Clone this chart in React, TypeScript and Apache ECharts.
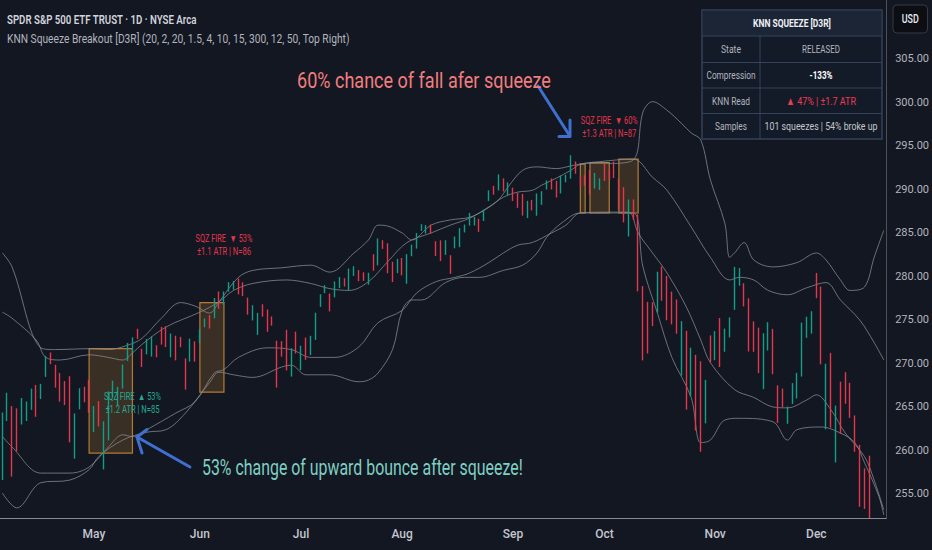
import React, { useEffect, useRef } from 'react';
import * as echarts from 'echarts';

// [date, open, high, low, close]
type Bar = [string, number, number, number, number];

const APR: Bar[] = [
  ['2018-04-04', 256.75, 264.36, 256.6, 263.56],
  ['2018-04-05', 265.55, 266.64, 263.39, 265.64],
  ['2018-04-06', 263.42, 265.11, 257.0, 259.72],
  ['2018-04-09', 261.37, 264.84, 259.91, 261.0],
  ['2018-04-10', 264.27, 266.04, 262.98, 265.15],
  ['2018-04-11', 263.47, 265.64, 263.39, 263.76],
  ['2018-04-12', 264.85, 267.11, 264.67, 265.93],
  ['2018-04-13', 267.18, 267.54, 263.88, 265.15],
  ['2018-04-16', 266.99, 267.66, 265.92, 267.33],
  ['2018-04-17', 269.51, 270.87, 268.46, 270.19],
  ['2018-04-18', 270.54, 271.26, 269.93, 270.39],
  ['2018-04-19', 269.36, 269.85, 267.22, 268.89],
  ['2018-04-20', 268.78, 268.92, 265.62, 266.61],
  ['2018-04-23', 267.26, 267.98, 265.22, 266.57],
  ['2018-04-24', 268.0, 268.54, 260.94, 262.98],
  ['2018-04-25', 263.1, 264.26, 259.06, 263.63],
  ['2018-04-26', 265.07, 267.16, 264.73, 266.31],
  ['2018-04-27', 267.07, 267.33, 265.54, 266.56],
  ['2018-04-30', 267.55, 268.14, 264.33, 264.51],
];

const MAY: Bar[] = [
  ['2018-05-01', 263.87, 265.1, 262.11, 264.98],
  ['2018-05-02', 264.76, 265.68, 262.76, 263.2],
  ['2018-05-03', 262.26, 263.36, 257.82, 262.62],
  ['2018-05-04', 261.52, 266.79, 261.15, 266.02],
  ['2018-05-07', 266.89, 268.02, 266.11, 266.92],
  ['2018-05-08', 266.5, 267.32, 265.15, 266.92],
  ['2018-05-09', 267.68, 269.88, 267.12, 269.5],
  ['2018-05-10', 270.42, 272.36, 270.28, 272.02],
  ['2018-05-11', 272.14, 273.0, 271.21, 272.85],
  ['2018-05-14', 273.34, 273.99, 272.82, 272.98],
  ['2018-05-15', 271.57, 271.69, 269.6, 271.1],
  ['2018-05-16', 271.12, 272.82, 271.05, 272.24],
  ['2018-05-17', 271.92, 273.11, 270.79, 272.01],
  ['2018-05-18', 271.62, 272.1, 270.71, 271.33],
  ['2018-05-21', 273.44, 274.21, 272.17, 272.99],
  ['2018-05-22', 273.93, 274.26, 271.88, 272.15],
  ['2018-05-23', 270.76, 273.45, 270.72, 273.36],
  ['2018-05-24', 272.97, 273.19, 270.36, 272.76],
  ['2018-05-25', 272.36, 273.06, 271.87, 272.15],
  ['2018-05-29', 270.0, 270.58, 267.0, 269.02],
  ['2018-05-30', 270.5, 272.86, 270.22, 272.61],
  ['2018-05-31', 272.15, 272.55, 270.2, 270.94],
];

const JUN: Bar[] = [
  ['2018-06-01', 272.42, 273.94, 272.33, 273.6],
  ['2018-06-04', 274.53, 275.18, 274.17, 274.9],
  ['2018-06-05', 275.46, 275.57, 274.02, 275.1],
  ['2018-06-06', 275.79, 277.52, 275.2, 277.4],
  ['2018-06-07', 277.9, 278.28, 276.29, 277.37],
  ['2018-06-08', 276.91, 278.28, 276.75, 278.19],
  ['2018-06-11', 278.49, 279.35, 278.25, 278.56],
  ['2018-06-12', 278.88, 279.48, 278.48, 279.1],
  ['2018-06-13', 279.39, 279.76, 277.94, 278.19],
  ['2018-06-14', 279.05, 279.33, 277.75, 278.73],
  ['2018-06-15', 277.15, 277.57, 275.62, 277.13],
  ['2018-06-18', 275.44, 276.7, 274.95, 276.56],
  ['2018-06-19', 273.87, 275.82, 273.28, 275.5],
  ['2018-06-20', 276.14, 276.81, 275.38, 275.97],
  ['2018-06-21', 275.96, 276.21, 273.64, 274.24],
  ['2018-06-22', 275.13, 275.41, 274.35, 274.74],
  ['2018-06-25', 272.54, 272.62, 267.23, 271.0],
  ['2018-06-26', 271.64, 272.56, 270.79, 271.6],
  ['2018-06-27', 272.27, 273.87, 269.2, 269.35],
  ['2018-06-28', 269.29, 271.75, 268.49, 270.89],
  ['2018-06-29', 272.12, 273.66, 271.15, 271.28],
];

const JUL: Bar[] = [
  ['2018-07-02', 269.51, 272.04, 269.24, 271.86],
  ['2018-07-03', 272.87, 272.98, 270.42, 270.9],
  ['2018-07-05', 272.17, 273.18, 270.96, 273.11],
  ['2018-07-06', 273.14, 275.84, 272.71, 275.42],
  ['2018-07-09', 276.56, 277.96, 276.5, 277.9],
  ['2018-07-10', 278.41, 279.01, 278.08, 278.9],
  ['2018-07-11', 277.15, 278.04, 275.99, 276.86],
  ['2018-07-12', 278.28, 279.43, 277.6, 279.37],
  ['2018-07-13', 279.17, 279.93, 278.66, 279.59],
  ['2018-07-16', 279.64, 279.8, 278.84, 279.34],
  ['2018-07-17', 278.47, 280.91, 278.41, 280.47],
  ['2018-07-18', 280.56, 281.18, 280.06, 281.06],
  ['2018-07-19', 280.31, 280.74, 279.46, 280.0],
  ['2018-07-20', 279.77, 280.48, 279.5, 279.68],
  ['2018-07-23', 279.45, 280.43, 279.06, 280.2],
  ['2018-07-24', 281.79, 282.56, 280.65, 281.61],
  ['2018-07-25', 281.33, 284.37, 281.28, 284.01],
  ['2018-07-26', 283.38, 284.17, 283.17, 283.34],
  ['2018-07-27', 283.71, 283.82, 280.38, 281.42],
  ['2018-07-30', 281.51, 281.69, 279.36, 279.95],
  ['2018-07-31', 280.81, 282.02, 280.38, 281.33],
];

const AUG: Bar[] = [
  ['2018-08-01', 281.56, 282.13, 280.13, 280.86],
  ['2018-08-02', 279.38, 282.58, 279.16, 282.39],
  ['2018-08-03', 282.53, 283.66, 282.33, 283.6],
  ['2018-08-06', 283.64, 284.99, 283.2, 284.64],
  ['2018-08-07', 285.39, 286.01, 285.24, 285.58],
  ['2018-08-08', 285.39, 285.91, 284.94, 285.46],
  ['2018-08-09', 285.53, 285.97, 284.92, 285.07],
  ['2018-08-10', 283.45, 284.06, 282.36, 283.16],
  ['2018-08-13', 283.47, 284.16, 281.77, 282.1],
  ['2018-08-14', 282.92, 284.17, 282.48, 283.9],
  ['2018-08-15', 282.38, 282.44, 280.3, 281.78],
  ['2018-08-16', 283.4, 284.59, 283.24, 284.06],
  ['2018-08-17', 283.83, 285.56, 283.37, 285.06],
  ['2018-08-20', 285.57, 285.97, 285.06, 285.67],
  ['2018-08-21', 286.25, 287.31, 285.85, 286.34],
  ['2018-08-22', 286.1, 286.85, 285.85, 286.17],
  ['2018-08-23', 286.06, 286.63, 285.13, 285.79],
  ['2018-08-24', 286.44, 287.67, 286.38, 287.51],
  ['2018-08-27', 288.86, 289.9, 288.68, 289.78],
  ['2018-08-28', 290.3, 290.42, 289.4, 289.92],
  ['2018-08-29', 290.16, 291.74, 289.89, 291.48],
  ['2018-08-30', 290.8, 291.28, 289.78, 290.3],
  ['2018-08-31', 289.84, 290.81, 289.29, 290.31],
];

const SEP: Bar[] = [
  ['2018-09-04', 289.84, 290.21, 288.68, 289.81],
  ['2018-09-05', 289.41, 289.64, 287.89, 289.03],
  ['2018-09-06', 289.15, 289.49, 287.0, 288.16],
  ['2018-09-07', 286.98, 288.7, 286.71, 287.6],
  ['2018-09-10', 288.74, 288.8, 287.6, 288.1],
  ['2018-09-11', 287.37, 289.55, 286.98, 289.05],
  ['2018-09-12', 289.06, 289.8, 288.23, 289.12],
  ['2018-09-13', 290.32, 291.04, 290.0, 290.83],
  ['2018-09-14', 291.06, 291.27, 290.0, 290.88],
  ['2018-09-17', 290.87, 291.0, 289.08, 289.34],
  ['2018-09-18', 289.58, 291.58, 289.55, 290.91],
  ['2018-09-19', 291.0, 291.69, 290.83, 291.22],
  ['2018-09-20', 292.64, 293.94, 291.24, 293.58],
  ['2018-09-21', 293.09, 293.22, 291.81, 291.99],
  ['2018-09-24', 291.34, 291.5, 290.37, 291.02],
  ['2018-09-25', 291.53, 291.65, 290.48, 290.75],
  ['2018-09-26', 290.91, 292.24, 289.41, 289.88],
  ['2018-09-27', 290.41, 291.91, 290.1, 290.69],
  ['2018-09-28', 289.99, 291.28, 289.95, 290.72],
];

const OCT: Bar[] = [
  ['2018-10-01', 292.11, 292.93, 290.98, 291.73],
  ['2018-10-02', 291.56, 292.36, 291.14, 291.56],
  ['2018-10-03', 292.74, 293.21, 291.32, 291.72],
  ['2018-10-04', 291.18, 291.24, 287.66, 289.44],
  ['2018-10-05', 289.69, 290.27, 286.22, 287.82],
  ['2018-10-08', 287.05, 288.85, 284.59, 287.82],
  ['2018-10-09', 287.41, 288.86, 286.48, 287.4],
  ['2018-10-10', 286.91, 287.14, 278.29, 278.3],
  ['2018-10-11', 277.08, 278.9, 270.36, 272.17],
  ['2018-10-12', 276.77, 277.08, 271.15, 275.95],
  ['2018-10-15', 275.55, 277.04, 274.3, 274.4],
  ['2018-10-16', 276.6, 280.55, 275.84, 280.4],
  ['2018-10-17', 280.7, 281.15, 277.22, 280.45],
  ['2018-10-18', 279.4, 280.07, 274.97, 276.4],
  ['2018-10-19', 277.14, 278.26, 274.5, 276.25],
  ['2018-10-22', 277.0, 277.36, 273.42, 275.01],
  ['2018-10-23', 270.95, 274.87, 268.61, 273.61],
  ['2018-10-24', 273.33, 273.76, 264.7, 265.32],
  ['2018-10-25', 267.38, 271.81, 266.23, 270.08],
  ['2018-10-26', 265.92, 271.0, 262.29, 265.33],
  ['2018-10-29', 268.8, 270.25, 259.85, 263.86],
  ['2018-10-30', 263.67, 268.12, 263.12, 267.77],
  ['2018-10-31', 270.65, 273.23, 270.12, 270.63],
];

const NOV: Bar[] = [
  ['2018-11-01', 271.6, 273.73, 270.38, 273.51],
  ['2018-11-02', 274.75, 275.23, 269.59, 271.89],
  ['2018-11-05', 272.44, 274.01, 271.35, 273.39],
  ['2018-11-06', 273.32, 275.3, 273.0, 275.12],
  ['2018-11-07', 277.56, 281.1, 276.16, 281.01],
  ['2018-11-08', 280.11, 280.97, 278.94, 280.5],
  ['2018-11-09', 279.02, 279.23, 276.56, 277.76],
  ['2018-11-12', 277.19, 277.49, 271.38, 272.57],
  ['2018-11-13', 273.09, 274.84, 271.34, 272.06],
  ['2018-11-14', 273.73, 274.12, 268.89, 270.2],
  ['2018-11-15', 268.78, 273.48, 267.05, 273.02],
  ['2018-11-16', 271.79, 274.75, 271.49, 273.73],
  ['2018-11-19', 273.35, 273.98, 268.77, 269.1],
  ['2018-11-20', 265.36, 267.49, 263.15, 264.12],
  ['2018-11-21', 265.86, 267.11, 264.94, 265.02],
  ['2018-11-23', 263.19, 265.04, 263.07, 263.25],
  ['2018-11-26', 265.78, 267.75, 265.34, 267.5],
  ['2018-11-27', 266.52, 268.92, 265.97, 268.4],
  ['2018-11-28', 269.6, 274.7, 268.49, 274.58],
  ['2018-11-29', 273.9, 275.38, 272.95, 273.98],
  ['2018-11-30', 274.6, 276.01, 273.43, 275.65],
];

const DEC: Bar[] = [
  ['2018-12-03', 280.28, 280.4, 277.51, 279.3],
  ['2018-12-04', 278.37, 278.85, 269.9, 270.25],
  ['2018-12-06', 265.92, 269.97, 262.44, 269.84],
  ['2018-12-07', 269.46, 271.22, 262.63, 263.57],
  ['2018-12-10', 263.37, 265.16, 258.62, 264.07],
  ['2018-12-11', 267.66, 267.91, 261.91, 264.13],
  ['2018-12-12', 267.47, 269.0, 265.37, 265.46],
  ['2018-12-13', 266.52, 267.78, 263.75, 265.37],
  ['2018-12-14', 262.96, 264.03, 259.85, 260.47],
  ['2018-12-17', 259.4, 260.65, 253.53, 255.36],
  ['2018-12-18', 257.2, 257.95, 253.28, 255.08],
  ['2018-12-19', 255.17, 259.4, 249.35, 251.26],
  ['2018-12-20', 249.86, 251.62, 244.65, 247.17],
  ['2018-12-21', 246.74, 249.71, 239.98, 240.7],
  ['2018-12-24', 239.04, 240.84, 234.27, 234.34],
];

const BARS: Bar[] = [...APR, ...MAY, ...JUN, ...JUL, ...AUG, ...SEP, ...OCT, ...NOV, ...DEC];
const DATES = BARS.map((b) => b[0]);
const MONTHS = ['Jan', 'Feb', 'Mar', 'Apr', 'May', 'Jun', 'Jul', 'Aug', 'Sep', 'Oct', 'Nov', 'Dec'];

// Band readings: [bar number (trading day from Apr 4), price]
const BB_UPPER: [number, number][] = [
  [0, 282.7], [2, 281.1], [8, 271.8], [11, 271.6], [18, 271.7], [22, 271.6], [26, 272.1], [29, 272.9],
  [33, 275.2], [37, 277.0], [40, 276.6], [43, 275.8], [45, 277.1], [49, 279.9], [52, 280.7], [58, 281.0],
  [64, 281.3], [68, 280.5], [73, 282.7], [76, 284.2], [78, 285.9], [80, 285.8], [83, 285.0], [85, 284.2],
  [86, 284.4], [89, 285.9], [93, 286.5], [97, 286.8], [100, 287.6], [103, 288.8], [105, 290.3], [108, 292.2],
  [111, 292.6], [115, 292.4], [118, 292.7], [121, 293.0], [126, 293.0], [131, 293.4], [133, 298.9], [135, 300.1],
  [138, 299.1], [141, 297.6], [143, 296.5], [145, 295.7], [147, 291.1], [150, 286.1], [151, 282.2], [152, 282.7],
  [154, 283.9], [156, 281.9], [160, 281.1], [165, 281.6], [169, 282.7], [171, 281.9], [174, 279.6], [176, 278.4],
  [179, 278.8], [181, 282.2], [183, 285.3],
];
const KC_UPPER: [number, number][] = [
  [0, 275.9], [2, 275.2], [7, 272.7], [9, 270.7], [12, 270.4], [18, 271.0], [22, 270.7], [25, 270.4],
  [27, 271.2], [29, 272.2], [34, 274.2], [41, 275.9], [45, 277.1], [48, 278.4], [52, 279.2], [59, 279.6],
  [64, 279.2], [68, 278.6], [72, 278.4], [76, 279.4], [80, 281.7], [84, 283.9], [89, 285.0], [93, 285.9],
  [97, 286.7], [101, 288.0], [104, 289.1], [107, 289.7], [110, 289.9], [112, 290.5], [115, 291.3], [118, 292.2],
  [120, 292.9], [124, 293.2], [131, 293.5], [135, 291.4], [138, 289.9], [143, 285.7], [147, 282.2], [151, 279.6],
  [153, 279.9], [156, 279.6], [159, 278.4], [163, 277.9], [167, 278.7], [171, 279.3], [174, 277.3], [178, 275.0],
  [181, 272.4], [183, 270.4],
];
const KC_LOWER: [number, number][] = [
  [0, 261.6], [2, 260.4], [8, 257.4], [14, 257.4], [18, 258.1], [22, 260.4], [25, 261.8], [27, 261.6],
  [30, 262.4], [36, 264.3], [40, 265.6], [44, 268.9], [46, 269.3], [49, 270.7], [55, 271.8], [60, 271.6],
  [64, 270.7], [69, 270.7], [74, 271.9], [78, 274.7], [83, 276.1], [86, 278.1], [90, 279.4], [94, 279.9],
  [97, 280.4], [101, 281.6], [104, 282.7], [107, 283.6], [110, 283.9], [114, 285.0], [117, 285.9], [120, 287.3],
  [126, 287.4], [130, 287.4], [132, 285.0], [135, 282.7], [138, 280.4], [142, 276.5], [145, 272.7], [147, 270.1],
  [152, 267.0], [156, 266.1], [160, 265.0], [163, 264.9], [167, 265.8], [169, 266.4], [172, 264.7], [175, 262.0],
  [179, 259.3], [181, 256.6], [183, 253.2],
];
const BB_LOWER: [number, number][] = [
  [0, 255.1], [3, 253.4], [8, 256.3], [14, 256.6], [18, 257.8], [20, 259.3], [25, 261.2], [30, 262.1],
  [34, 262.4], [38, 264.3], [43, 267.8], [45, 269.0], [48, 268.7], [52, 268.4], [58, 269.6], [60, 269.8],
  [63, 268.7], [68, 268.7], [74, 267.9], [76, 268.1], [78, 268.9], [81, 271.6], [83, 276.1], [85, 277.3],
  [87, 277.3], [92, 279.3], [96, 279.9], [99, 279.9], [104, 280.7], [108, 281.3], [111, 282.7], [113, 284.5],
  [116, 286.1], [120, 287.3], [126, 287.3], [131, 287.3], [133, 281.1], [136, 275.8], [139, 270.7], [143, 266.1],
  [145, 260.9], [147, 261.2], [150, 263.5], [153, 263.7], [160, 263.3], [163, 261.2], [165, 262.4], [170, 262.7],
  [174, 262.0], [177, 260.9], [179, 258.6], [182, 254.7], [183, 252.6],
];

// Squeeze boxes: [start date, end date, top price, bottom price]
const SQUEEZE_BOXES: [string, string, number, number][] = [
  ['2018-04-30', '2018-05-11', 271.7, 259.7],
  ['2018-06-01', '2018-06-08', 277.0, 266.7],
  ['2018-09-24', '2018-09-25', 292.9, 287.3],
  ['2018-09-26', '2018-10-02', 293.1, 287.3],
  ['2018-10-04', '2018-10-10', 293.5, 287.3],
];

// Squeeze-fire labels: [date, price line 1, price line 2, line 1, line 2, direction]
const FIRE_LABELS: [string, number, number, string, string, 'up' | 'down'][] = [
  ['2018-05-11', 266.2, 264.7, 'SQZ FIRE  \u25B2 53%', '\u00B11.2 ATR | N=85', 'up'],
  ['2018-06-08', 284.4, 282.9, 'SQZ FIRE  \u25BC 53%', '\u00B11.1 ATR | N=86', 'down'],
  ['2018-10-02', 297.9, 296.4, 'SQZ FIRE  \u25BC 60%', '\u00B11.3 ATR | N=87', 'down'],
];

const Y_TICKS = [255, 260, 265, 270, 275, 280, 285, 290, 295, 300, 305];
const Y_MIN = 252.24;
const Y_MAX = 311.78;

const TABLE_ROWS: [string, string][] = [
  ['State', 'RELEASED'],
  ['Compression', '-133%'],
  ['KNN Read', '\u25B2 47% | \u00B11.7 ATR'],
  ['Samples', '101 squeezes | 54% broke up'],
];

const UP = '#0f9e88';
const DOWN = '#e5364b';
const BG = '#131722';
const FONT = 'Roboto, "Noto Sans", sans-serif';

const measureCtx = (() => {
  const c = document.createElement('canvas');
  return c.getContext('2d') as CanvasRenderingContext2D;
})();

function fitText(
  text: string,
  x: number,
  y: number,
  size: number,
  fill: string,
  width: number,
  weight: string = 'normal',
  align: string = 'left'
) {
  const font = `${weight} ${size}px ${FONT}`;
  measureCtx.font = font;
  const m = measureCtx.measureText(text).width || width;
  return {
    type: 'text',
    x,
    y,
    scaleX: width / m,
    silent: true,
    z: 100,
    style: {
      text,
      font,
      fill,
      textAlign: align,
      textVerticalAlign: 'middle',
      align,
      verticalAlign: 'middle',
    },
  };
}

function staticGraphics(): any[] {
  const g: any[] = [];
  // mask below the price pane so that bars are cut at the time axis
  g.push({ type: 'rect', silent: true, z: 5, shape: { x: 0, y: 518.5, width: 887.5, height: 32 }, style: { fill: BG } });
  // titles
  g.push(fitText('SPDR S&P 500 ETF TRUST \u00B7 1D \u00B7 NYSE Arca', 7, 19, 13, '#d1d4dc', 190, '600'));
  g.push(
    fitText(
      'KNN Squeeze Breakout [D3R] (20, 2, 20, 1.5, 4, 10, 15, 300, 12, 50, Top Right)',
      7,
      38.5,
      13,
      '#b2b5be',
      343
    )
  );
  // big annotations
  g.push(fitText('60% chance of fall afer squeeze', 297, 80, 22, '#f27d7d', 254));
  g.push(fitText('53% change of upward bounce after squeeze!', 202, 468, 22, '#7fd0c3', 321));
  // arrows
  const arrowStyle = { stroke: '#3f6fcf', lineWidth: 3, lineCap: 'round', lineJoin: 'round', fill: null };
  g.push({ type: 'polyline', silent: true, z: 90, shape: { points: [[190, 467], [137, 437]] }, style: arrowStyle });
  g.push({ type: 'polyline', silent: true, z: 90, shape: { points: [[147, 429.5], [137, 437], [142, 453]] }, style: arrowStyle });
  g.push({ type: 'polyline', silent: true, z: 90, shape: { points: [[538, 86], [569.5, 135.5]] }, style: arrowStyle });
  g.push({ type: 'polyline', silent: true, z: 90, shape: { points: [[570, 120], [570, 136.5], [559, 136.5]] }, style: arrowStyle });

  // table
  const tx = 702, ty = 10, tw = 180, th = 129, colX = 760;
  const rowY = [36, 62.5, 88, 113.5, 139];
  g.push({ type: 'rect', silent: true, z: 95, shape: { x: tx, y: ty, width: tw, height: th }, style: { fill: '#141b28', stroke: '#34425a', lineWidth: 1.5 } });
  g.push({ type: 'rect', silent: true, z: 95, shape: { x: tx + 0.75, y: ty + 0.75, width: tw - 1.5, height: 25.25 }, style: { fill: '#1c2536' } });
  rowY.slice(0, 4).forEach((yy) => {
    g.push({ type: 'line', silent: true, z: 96, shape: { x1: tx, y1: yy, x2: tx + tw, y2: yy }, style: { stroke: '#34425a', lineWidth: 1 } });
  });
  g.push({ type: 'line', silent: true, z: 96, shape: { x1: colX, y1: 36, x2: colX, y2: ty + th }, style: { stroke: '#34425a', lineWidth: 1 } });
  g.push(fitText('KNN SQUEEZE [D3R]', 792, 23.5, 11.5, '#eef0f4', 78, 'bold', 'center'));
  const w1 = [20, 49, 38, 32];
  const w2 = [38, 23, 70, 113];
  const c2 = ['#b2b5be', '#ffffff', '#ef3a4f', '#c3c6ce'];
  const wt2 = ['normal', 'bold', 'normal', 'normal'];
  TABLE_ROWS.forEach((r, i) => {
    const cy = (rowY[i] + rowY[i + 1]) / 2;
    g.push(fitText(r[0], 731, cy, 11.5, '#b2b5be', w1[i], 'normal', 'center'));
    g.push(fitText(r[1], 821, cy, 11.5, c2[i], w2[i], wt2[i], 'center'));
  });

  // USD box
  g.push({ type: 'rect', silent: true, z: 95, shape: { x: 893, y: 5, width: 34.5, height: 28, r: 4 }, style: { fill: '#0c0e14', stroke: '#363a45', lineWidth: 1 } });
  g.push(fitText('USD', 910.2, 19, 12, '#e8eaee', 17, '500', 'center'));
  return g;
}

export default function App() {
  const ref = useRef<HTMLDivElement>(null);

  useEffect(() => {
    if (!ref.current) return;
    const chart = echarts.init(ref.current, null, { renderer: 'svg' });

    const bandSeries = (name: string, pts: [number, number][]) => ({
      name,
      type: 'line',
      data: pts,
      showSymbol: false,
      symbol: 'none',
      smooth: 0.35,
      silent: true,
      z: 2,
      lineStyle: { color: 'rgba(138,141,150,0.75)', width: 1 },
    });

    const option: any = {
      animation: false,
      backgroundColor: BG,
      grid: { left: -1, right: 45, top: 0, bottom: 32, containLabel: false },
      xAxis: {
        type: 'category',
        data: DATES,
        boundaryGap: true,
        z: 10,
        axisLine: { show: true, lineStyle: { color: '#868993', width: 1 } },
        axisTick: { show: false },
        splitLine: { show: false },
        axisLabel: {
          interval: (i: number, v: string) => i > 0 && v.slice(5, 7) !== DATES[i - 1].slice(5, 7),
          formatter: (v: string) => MONTHS[parseInt(v.slice(5, 7), 10) - 1],
          color: '#c3c6ce',
          fontSize: 12,
          fontWeight: 500,
          fontFamily: FONT,
          margin: 10,
        },
      },
      yAxis: {
        type: 'value',
        position: 'right',
        min: Y_MIN,
        max: Y_MAX,
        z: 10,
        axisLine: { show: true, lineStyle: { color: '#4c505b' } },
        axisTick: { show: false },
        splitLine: { show: false },
        axisLabel: {
          customValues: Y_TICKS,
          formatter: (v: number) => v.toFixed(2),
          color: '#b2b5be',
          fontSize: 11,
          fontFamily: FONT,
          margin: 9,
        },
      },
      series: [
        bandSeries('BB upper', BB_UPPER),
        bandSeries('KC upper', KC_UPPER),
        bandSeries('KC lower', KC_LOWER),
        bandSeries('BB lower', BB_LOWER),
        {
          name: 'SPY',
          type: 'candlestick',
          data: BARS.map((b) => [b[1], b[4], b[3], b[2]]),
          barWidth: 1.2,
          clip: true,
          z: 3,
          itemStyle: { color: UP, color0: DOWN, borderColor: UP, borderColor0: DOWN, borderWidth: 1.4 },
          markArea: {
            silent: true,
            itemStyle: { color: 'rgba(255,166,48,0.17)', borderColor: 'rgba(214,146,58,0.8)', borderWidth: 1.2 },
            data: SQUEEZE_BOXES.map((b) => [
              { coord: [DATES.indexOf(b[0]), b[2]] },
              { coord: [DATES.indexOf(b[1]), b[3]] },
            ]),
          },
        },
      ],
    };
    chart.setOption(option);

    const g = staticGraphics();
    FIRE_LABELS.forEach((l) => {
      const idx = DATES.indexOf(l[0]);
      const p1 = chart.convertToPixel({ gridIndex: 0 }, [idx, l[1]]) as number[];
      const p2 = chart.convertToPixel({ gridIndex: 0 }, [idx, l[2]]) as number[];
      const col = l[5] === 'up' ? '#22ab96' : '#e5364b';
      g.push(fitText(l[3], p1[0], p1[1], 10, col, 57, 'normal', 'center'));
      g.push(fitText(l[4], p2[0], p2[1], 10, col, 54, 'normal', 'center'));
    });
    chart.setOption({ graphic: { elements: g } });

    return () => chart.dispose();
  }, []);

  return (
    <div
      ref={ref}
      style={{ position: 'absolute', left: 0, top: 0, width: 932, height: 550, background: BG }}
    />
  );
}
